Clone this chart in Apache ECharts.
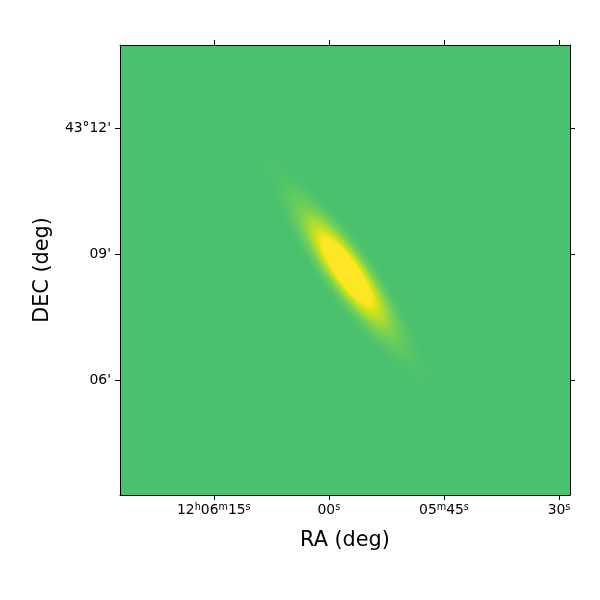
<!DOCTYPE html>
<html>
<head>
<meta charset="utf-8">
<script src="https://cdn.jsdelivr.net/npm/echarts@6/dist/echarts.min.js"></script>
<style>
html,body{margin:0;padding:0;background:#fff;}
#chart{width:600px;height:600px;}
</style>
</head>
<body>
<div id="chart"></div>
<script>
// ---- Axis ranges: RA in seconds after 12h05m00s, Dec in arcmin after 43°00'
const raRange = [28.57, 87.23];
const decRange = [3.283, 13.98];
const raTicks = [30, 45, 60, 75];
const raTickLabels = ['30^s', '05^m45^s', '00^s', '12^h06^m15^s'];
const decTicks = [6, 9, 12];
const decTickLabels = ["06'", "09'", "43°12'"];

// ---- Galaxy surface-brightness samples along its major axis
const sampleRA = [69.00, 68.24, 67.49, 66.73, 65.97, 65.21, 64.46, 63.70, 62.94, 62.18, 61.43, 60.67, 59.91, 59.16, 58.40, 57.64,
                  56.88, 56.13, 55.37, 54.61, 53.85, 53.10, 52.34, 51.58, 50.82, 50.07, 49.31, 48.55, 47.79, 47.04, 46.28];
const sampleDec = [11.498, 11.305, 11.111, 10.918, 10.724, 10.531, 10.337, 10.144, 9.950, 9.757, 9.563, 9.370, 9.176, 8.983, 8.789, 8.596,
                   8.403, 8.209, 8.016, 7.822, 7.629, 7.435, 7.242, 7.048, 6.855, 6.661, 6.468, 6.274, 6.081, 5.887, 5.694];
const sampleFlux = [0.013, 0.020, 0.030, 0.038, 0.050, 0.070, 0.100, 0.148, 0.220, 0.318, 0.445, 0.592, 0.742, 0.875, 0.967, 1.000,
                    0.967, 0.875, 0.742, 0.592, 0.445, 0.318, 0.220, 0.148, 0.100, 0.070, 0.050, 0.038, 0.030, 0.020, 0.013];

// ---- Styling
const FONT = 'DejaVu Sans';
const BG = '#4ac16d';
const displayMax = 1.38;      // display stretch (visual map upper bound)
const SAT = 0.5;              // saturation level of the stretch
const VIR = [[0.72,'#4ac16d'],[0.75,'#5ec962'],[0.80,'#7ad151'],[0.85,'#a0da39'],[0.90,'#bddf26'],[0.95,'#dfe318'],[1.00,'#fde725']];
function hex2rgb(h){return [parseInt(h.slice(1,3),16),parseInt(h.slice(3,5),16),parseInt(h.slice(5,7),16)];}
function viridisAt(v){
  for (let i = 0; i < VIR.length - 1; i++) {
    const a = VIR[i][0], b = VIR[i+1][0];
    if (v <= b) {
      const f = Math.max(0, (v - a) / (b - a));
      const A = hex2rgb(VIR[i][1]), B = hex2rgb(VIR[i+1][1]);
      return 'rgb(' + A.map((x,k)=>Math.round(x + (B[k]-x)*f)).join(',') + ')';
    }
  }
  return VIR[VIR.length-1][1];
}
const gradientColors = [];
for (let j = 0; j <= 100; j++) {
  const A = j / 100;
  const t = Math.min(1, -Math.log(1 - A) / SAT);
  gradientColors.push(viridisAt(0.72 + 0.28 * t));
}

function richLabel(label){
  const parts = label.split(/\^(.)/);
  return parts.map((p,i)=> p === '' ? '' : (i % 2 ? '{s|' + p + '}' : '{n|' + p + '}')).join('');
}
function idxOf(arr, v){ return arr.findIndex(t => Math.abs(t - v) < 1e-6); }

echarts.registerMap('field', {
  type: 'FeatureCollection',
  features: [{
    type: 'Feature', properties: {name: 'field'},
    geometry: {type: 'Polygon', coordinates: [[
      [-raRange[1], decRange[0]], [-raRange[0], decRange[0]], [-raRange[0], decRange[1]], [-raRange[1], decRange[1]], [-raRange[1], decRange[0]]
    ]]}
  }]
});

const chart = echarts.init(document.getElementById('chart'), null, {renderer: 'canvas'});

const tickStyle = {show: true, inside: false, length: 5, lineStyle: {color: '#000', width: 1}};
const lineStyle = {show: true, onZero: false, lineStyle: {color: '#000', width: 1}};

const option = {
  animation: false,
  backgroundColor: '#fff',
  grid: {left: 120, right: 30, top: 45, bottom: 105, show: true, backgroundColor: BG, borderWidth: 0},
  geo: {
    map: 'field', roam: false, silent: true,
    left: 120, top: 45, width: 450, height: 450,
    boundingCoords: [[-raRange[1], decRange[1]], [-raRange[0], decRange[0]]],
    itemStyle: {areaColor: 'rgba(0,0,0,0)', borderWidth: 0},
    emphasis: {disabled: true}, label: {show: false}
  },
  visualMap: {
    type: 'continuous', show: false, min: 0, max: displayMax, seriesIndex: 0,
    inRange: {color: gradientColors}
  },
  xAxis: [
    {
      type: 'value', position: 'bottom', min: raRange[0], max: raRange[1], inverse: true,
      splitLine: {show: false}, axisLine: lineStyle,
      axisTick: Object.assign({}, tickStyle, {customValues: raTicks}),
      axisLabel: {
        customValues: raTicks, margin: 7,
        formatter: v => richLabel(raTickLabels[idxOf(raTicks, v)]),
        rich: {
          n: {fontFamily: FONT, fontSize: 13.9, color: '#000', lineHeight: 17},
          s: {fontFamily: FONT, fontSize: 9.7, color: '#000', lineHeight: 9, verticalAlign: 'top'}
        }
      },
      name: 'RA (deg)', nameLocation: 'middle', nameGap: 35,
      nameTextStyle: {fontFamily: FONT, fontSize: 20.8, color: '#000'}
    },
    {
      type: 'value', position: 'top', min: raRange[0], max: raRange[1], inverse: true,
      splitLine: {show: false}, axisLine: lineStyle,
      axisTick: Object.assign({}, tickStyle, {customValues: raTicks}),
      axisLabel: {show: false}
    }
  ],
  yAxis: [
    {
      type: 'value', position: 'left', min: decRange[0], max: decRange[1],
      splitLine: {show: false}, axisLine: lineStyle,
      axisTick: Object.assign({}, tickStyle, {customValues: decTicks}),
      axisLabel: {
        customValues: decTicks, margin: 9, fontFamily: FONT, fontSize: 13.9, color: '#000',
        formatter: v => decTickLabels[idxOf(decTicks, v)]
      },
      name: 'DEC (deg)', nameLocation: 'middle', nameGap: 67,
      nameTextStyle: {fontFamily: FONT, fontSize: 20.8, color: '#000'}
    },
    {
      type: 'value', position: 'right', min: decRange[0], max: decRange[1],
      splitLine: {show: false}, axisLine: lineStyle,
      axisTick: Object.assign({}, tickStyle, {customValues: decTicks}),
      axisLabel: {show: false}
    }
  ],
  series: [{
    type: 'heatmap', coordinateSystem: 'geo', geoIndex: 0,
    pointSize: 10, blurSize: 19, minOpacity: 1, maxOpacity: 1,
    data: sampleRA.map((ra, i) => [-ra, sampleDec[i], sampleFlux[i]])
  }]
};
chart.setOption(option);
</script>
</body>
</html>
